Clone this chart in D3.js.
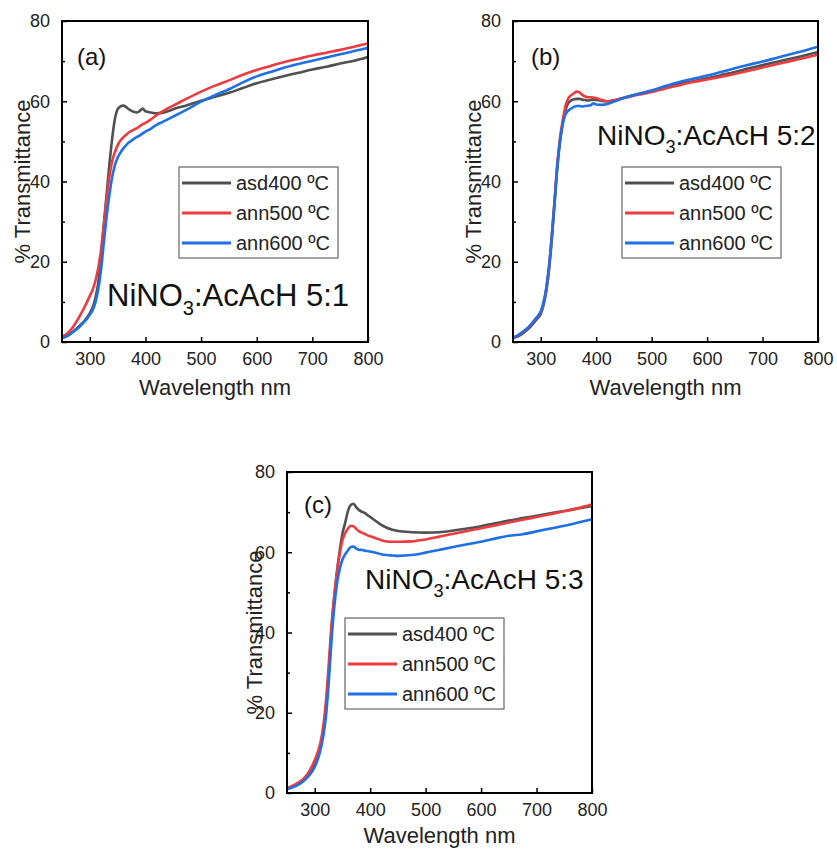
<!DOCTYPE html>
<html>
<head>
<meta charset="utf-8">
<script src="https://cdn.jsdelivr.net/npm/d3@7"></script>
<style>
  html, body { margin: 0; padding: 0; background: #ffffff; }
  svg { display: block; font-family: "Liberation Sans", Arial, sans-serif; }
</style>
</head>
<body>
<svg id="fig" width="837" height="849"></svg>
<script>
// Wavelength grid (nm) shared by all spectra
const wavelength = [250,260,270,280,290,295,300,305,310,315,320,325,330,335,340,345,350,355,360,365,370,375,380,385,390,395,400,410,420,430,440,450,475,500,525,550,575,600,625,650,675,700,725,750,775,800];

const seriesNames = ["asd400 \u00baC", "ann500 \u00baC", "ann600 \u00baC"];

// (a) NiNO3:AcAcH 5:1 — % transmittance
const a_asd400 = [1.0,1.6,2.6,3.8,5.2,6.1,7.2,8.6,10.9,14.6,21.0,29.0,36.5,44.0,50.5,55.5,58.0,58.7,58.9,58.6,58.0,57.6,57.3,57.2,57.6,58.2,57.5,57.2,57.0,57.1,57.5,58.0,59.0,60.1,61.1,62.1,63.3,64.5,65.4,66.3,67.1,67.9,68.6,69.4,70.1,71.0];
const a_ann500 = [1.3,2.2,3.8,6.0,8.6,10.0,11.5,13.0,15.2,18.3,22.8,29.0,35.5,41.0,45.0,47.3,49.0,50.2,51.0,51.6,52.2,52.6,53.0,53.3,53.8,54.3,54.6,55.5,56.5,57.4,58.2,58.9,60.7,62.4,63.9,65.2,66.6,67.8,68.8,69.8,70.6,71.4,72.1,72.8,73.6,74.4];
const a_ann600 = [1.0,1.5,2.5,3.6,5.0,5.8,6.8,7.9,9.8,13.0,17.8,24.5,31.0,36.5,41.0,44.0,45.9,47.2,48.2,49.0,49.7,50.2,50.7,51.1,51.5,52.0,52.4,53.2,54.1,54.8,55.5,56.2,58.0,59.9,61.5,63.0,64.7,66.2,67.3,68.4,69.3,70.1,70.9,71.7,72.5,73.3];

// (b) NiNO3:AcAcH 5:2
const b_asd400 = [1.0,1.5,2.4,3.6,5.2,6.0,7.0,9.2,12.6,18.0,25.5,34.5,43.5,50.0,54.8,58.0,59.6,60.2,60.5,60.6,60.6,60.4,60.3,60.2,60.3,60.4,60.3,60.1,60.0,60.2,60.5,60.9,61.8,62.6,63.5,64.4,65.0,65.7,66.5,67.3,68.2,69.0,69.8,70.6,71.4,72.3];
const b_ann500 = [1.1,1.7,2.7,3.9,5.5,6.4,7.4,9.6,13.2,18.8,26.5,35.5,44.5,51.0,55.5,59.0,60.8,61.5,62.0,62.4,62.2,61.6,61.2,61.0,61.0,60.9,60.8,60.3,60.0,60.2,60.5,60.8,61.6,62.3,63.2,64.0,64.8,65.4,66.1,66.8,67.6,68.4,69.2,70.0,70.8,71.6];
const b_ann600 = [1.1,1.8,2.8,4.0,5.7,6.5,7.6,9.9,13.5,19.0,26.5,35.0,44.0,50.5,54.5,56.8,57.7,58.2,58.6,58.8,58.8,58.7,58.8,58.9,59.0,59.5,59.2,59.1,59.3,59.8,60.3,60.8,61.8,62.7,63.8,64.8,65.6,66.4,67.3,68.2,69.1,69.9,70.8,71.7,72.6,73.6];

// (c) NiNO3:AcAcH 5:3
const c_asd400 = [1.0,1.5,2.2,3.3,4.8,5.8,7.1,9.0,11.4,14.8,20.5,29.5,40.0,48.5,55.0,60.3,64.7,67.4,70.3,71.8,72.1,71.2,70.5,70.1,69.8,69.3,68.8,67.8,66.8,66.1,65.6,65.3,65.0,64.9,65.0,65.4,65.9,66.5,67.2,67.9,68.5,69.1,69.7,70.3,70.9,71.5];
const c_ann500 = [1.2,1.8,2.6,3.6,5.4,6.7,8.2,10.0,12.4,16.2,22.5,31.5,41.5,48.8,55.0,59.5,63.0,64.8,65.9,66.6,66.5,65.8,65.2,64.9,64.6,64.2,64.0,63.5,63.0,62.7,62.6,62.6,62.7,63.2,63.9,64.6,65.3,66.0,66.7,67.4,68.1,68.8,69.5,70.2,71.0,71.9];
const c_ann600 = [1.0,1.4,2.0,3.0,4.4,5.3,6.5,8.2,10.5,13.8,18.8,27.0,37.5,46.0,52.0,55.8,58.2,59.5,60.5,61.3,61.4,60.9,60.6,60.6,60.4,60.3,60.2,59.9,59.5,59.3,59.2,59.1,59.3,59.9,60.6,61.3,62.0,62.6,63.4,64.1,64.5,65.2,65.9,66.6,67.4,68.2];

// Axis ticks
const xTicks = [300, 400, 500, 600, 700, 800];
const yTicks = [0, 20, 40, 60, 80];
const yMinorTicks = [10, 30, 50, 70];

const panelTags = ["(a)", "(b)", "(c)"];
const ratioLabels = ["5:1", "5:2", "5:3"];

const colors = ["#505050", "#ee3b3f", "#1f6fe5"];

// Panel layout
const panels = [
  { tag: panelTags[0], ratio: ratioLabels[0], series: [a_asd400, a_ann500, a_ann600],
    left: 62, top: 21, width: 306, height: 321,
    tagPos: [77, 65], labelPos: [107, 306], labelSize: 31,
    legend: [179, 167], yTitleX: 22, xTitleGap: 53 },
  { tag: panelTags[1], ratio: ratioLabels[1], series: [b_asd400, b_ann500, b_ann600],
    left: 513, top: 21, width: 305, height: 321,
    tagPos: [531, 65], labelPos: [597, 145], labelSize: 28,
    legend: [622, 167], yTitleX: 473, xTitleGap: 53 },
  { tag: panelTags[2], ratio: ratioLabels[2], series: [c_asd400, c_ann500, c_ann600],
    left: 287, top: 472, width: 305, height: 321,
    tagPos: [304, 513], labelPos: [365, 589], labelSize: 28,
    legend: [345, 618], yTitleX: 254, xTitleGap: 50 }
];

const svg = d3.select("#fig");

panels.forEach((p, pi) => {
  const x = d3.scaleLinear().domain([250, 800]).range([p.left, p.left + p.width]);
  const y = d3.scaleLinear().domain([0, 80]).range([p.top + p.height, p.top]);
  const g = svg.append("g");

  const clipId = "clip" + pi;
  svg.append("clipPath").attr("id", clipId)
    .append("rect").attr("x", p.left).attr("y", p.top).attr("width", p.width).attr("height", p.height);

  // spectra
  const line = d3.line()
    .x((d, i) => x(wavelength[i]))
    .y(d => y(d))
    .curve(d3.curveMonotoneX);
  const curves = g.append("g").attr("clip-path", `url(#${clipId})`);
  p.series.forEach((s, si) => {
    curves.append("path").datum(s)
      .attr("d", line)
      .attr("fill", "none")
      .attr("stroke", colors[si])
      .attr("stroke-width", 2.6)
      .attr("stroke-linejoin", "round");
  });

  // bottom axis: ticks pointing into the plot
  const xAxis = d3.axisBottom(x).tickValues(xTicks).tickSizeInner(-5).tickSizeOuter(0).tickPadding(10);
  const gx = g.append("g").attr("transform", `translate(0,${p.top + p.height})`).call(xAxis);
  gx.select(".domain").remove();
  gx.selectAll(".tick line").attr("stroke", "#000").attr("stroke-width", 1.5);
  gx.selectAll(".tick text").attr("font-size", 18).attr("fill", "#222")
    .attr("font-family", "Liberation Sans, Arial, sans-serif");

  // left axis: major + minor ticks inward
  const yAxis = d3.axisLeft(y).tickValues(yTicks).tickSizeInner(-5).tickSizeOuter(0).tickPadding(12);
  const gy = g.append("g").attr("transform", `translate(${p.left},0)`).call(yAxis);
  gy.select(".domain").remove();
  gy.selectAll(".tick line").attr("stroke", "#000").attr("stroke-width", 1.5);
  gy.selectAll(".tick text").attr("font-size", 18).attr("fill", "#222")
    .attr("font-family", "Liberation Sans, Arial, sans-serif");
  const yMinor = d3.axisLeft(y).tickValues(yMinorTicks).tickSizeInner(-3).tickSizeOuter(0).tickFormat("");
  const gym = g.append("g").attr("transform", `translate(${p.left},0)`).call(yMinor);
  gym.select(".domain").remove();
  gym.selectAll(".tick line").attr("stroke", "#000").attr("stroke-width", 1.5);

  // frame
  g.append("rect").attr("x", p.left).attr("y", p.top).attr("width", p.width).attr("height", p.height)
    .attr("fill", "none").attr("stroke", "#000").attr("stroke-width", 2);

  // axis titles
  g.append("text").attr("x", p.left + p.width / 2).attr("y", p.top + p.height + p.xTitleGap)
    .attr("text-anchor", "middle").attr("font-size", 22).attr("fill", "#222")
    .text("Wavelength nm");
  g.append("text")
    .attr("transform", `translate(${p.yTitleX},${p.top + p.height / 2}) rotate(-90)`)
    .attr("text-anchor", "middle").attr("dominant-baseline", "central")
    .attr("font-size", 22).attr("fill", "#222")
    .text("% Transmittance");

  // panel tag
  g.append("text").attr("x", p.tagPos[0]).attr("y", p.tagPos[1])
    .attr("font-size", 24).attr("fill", "#111").text(p.tag);

  // composition label with subscript
  const lab = g.append("text").attr("x", p.labelPos[0]).attr("y", p.labelPos[1])
    .attr("font-size", p.labelSize).attr("fill", "#111");
  lab.append("tspan").text("NiNO");
  lab.append("tspan").attr("dy", p.labelSize * 0.3).attr("font-size", p.labelSize * 0.65).text("3");
  lab.append("tspan").attr("dy", -p.labelSize * 0.3).text(":AcAcH " + p.ratio);

  // legend
  const lx = p.legend[0], ly = p.legend[1];
  const lg = g.append("g");
  lg.append("rect").attr("x", lx).attr("y", ly).attr("width", 159).attr("height", 91)
    .attr("fill", "#fff").attr("stroke", "#666").attr("stroke-width", 1.2);
  seriesNames.forEach((name, si) => {
    const yy = ly + 16 + si * 30;
    lg.append("line").attr("x1", lx + 3).attr("x2", lx + 52).attr("y1", yy).attr("y2", yy)
      .attr("stroke", colors[si]).attr("stroke-width", 3);
    lg.append("text").attr("x", lx + 57).attr("y", yy).attr("dominant-baseline", "central")
      .attr("font-size", 20).attr("fill", "#222").text(name);
  });
});
</script>
</body>
</html>
